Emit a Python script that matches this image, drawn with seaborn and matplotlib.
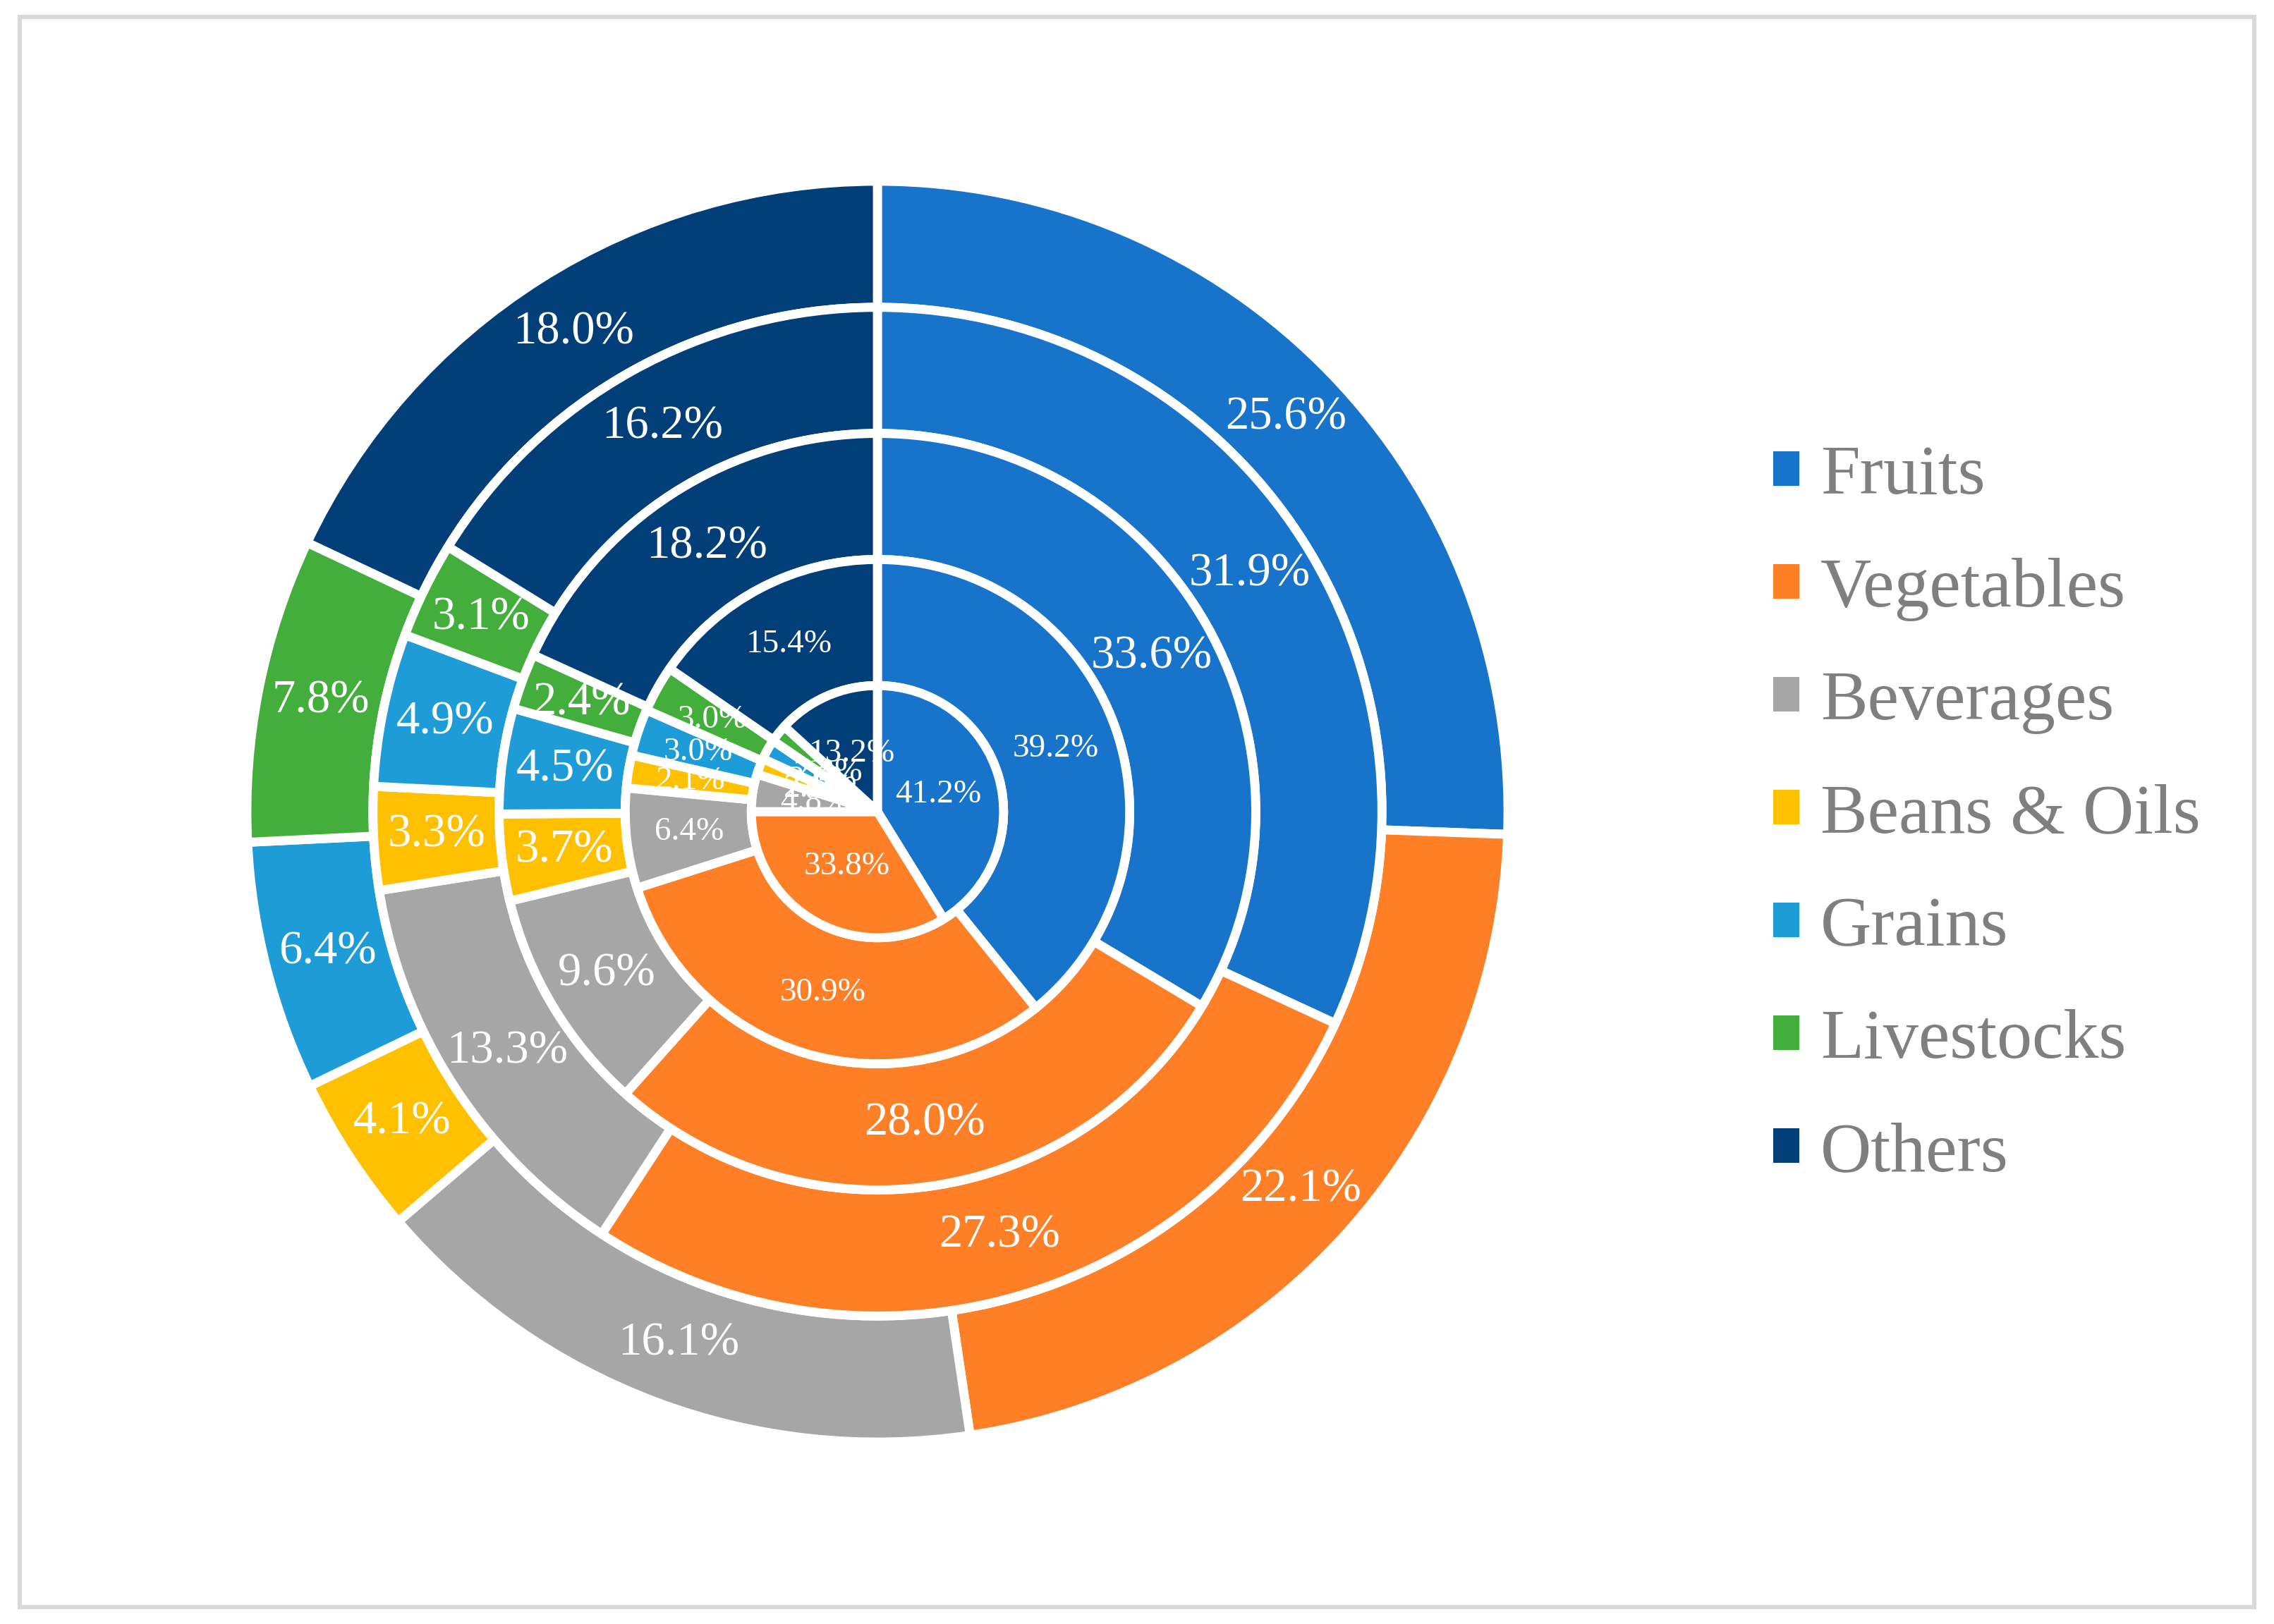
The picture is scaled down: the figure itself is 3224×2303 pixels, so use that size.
import matplotlib
matplotlib.use("Agg")
import matplotlib.pyplot as plt
from matplotlib.patches import Patch, Rectangle
import seaborn as sns

categories = ["Fruits", "Vegetables", "Beverages", "Beans & Oils", "Grains", "Livestocks", "Others"]
ring5 = [25.6, 22.1, 16.1, 4.1, 6.4, 7.8, 18.0]   # outermost
ring4 = [31.9, 27.3, 13.3, 3.3, 4.9, 3.1, 16.2]
ring3 = [33.6, 28.0, 9.6, 3.7, 4.5, 2.4, 18.2]
ring2 = [39.2, 30.9, 6.4, 2.1, 3.0, 3.0, 15.4]
ring1 = [41.2, 33.8, 4.8, 2.1, 2.6, 2.3, 13.2]   # innermost

colors = ["#1874CB", "#FF7F27", "#A6A6A6", "#FFC000", "#1E9CD7", "#43AE3B", "#023F78"]

sns.set_theme(style="white")
plt.rcParams["font.family"] = ["Liberation Serif", "DejaVu Serif"]

W, H, DPI = 3224, 2303, 200
fig = plt.figure(figsize=(W / DPI, H / DPI), dpi=DPI)
fig.patch.set_facecolor("white")

cx, cy, R = 1244, 1151, 894
ax = fig.add_axes([(cx - R) / W, (H - cy - R) / H, 2 * R / W, 2 * R / H])
ax.set_xlim(-1, 1)
ax.set_ylim(-1, 1)
ax.set_aspect("equal")
ax.axis("off")

pal = sns.color_palette(colors)
lw = 4.6

rings = [(ring5, 1.0, 24), (ring4, 0.8, 24), (ring3, 0.6, 24), (ring2, 0.4, 17), (ring1, 0.2, 17)]
for vals, rad, fs in rings:
    it = iter(vals)
    pctd = (rad - 0.1) / rad
    ax.pie(vals, radius=rad, colors=pal, startangle=90, counterclock=False,
           wedgeprops=dict(width=0.2 if rad > 0.2 else None, edgecolor="white",
                           linewidth=lw, joinstyle="round"),
           autopct=lambda p, it=it: f"{next(it):.1f}%", pctdistance=pctd,
           textprops=dict(color="white", fontsize=fs), frame=False)
ax.set_xlim(-1, 1)
ax.set_ylim(-1, 1)

handles = [Patch(facecolor=c, edgecolor="none") for c in pal]
fig.legend(handles, categories, loc="center left", bbox_to_anchor=(2514 / W, 0.498),
           frameon=False, fontsize=36, labelcolor="#7F7F7F",
           handlelength=0.37, handleheight=0.37, handletextpad=0.3,
           labelspacing=0.70, borderpad=0, borderaxespad=0)

fig.add_artist(Rectangle((27.5 / W, 24 / H), (3196 - 27.5) / W, (2279 - 24) / H,
                         transform=fig.transFigure, fill=False, edgecolor="#D9D9D9", linewidth=2.2))

fig.savefig("out.png", dpi=DPI, facecolor="white")
